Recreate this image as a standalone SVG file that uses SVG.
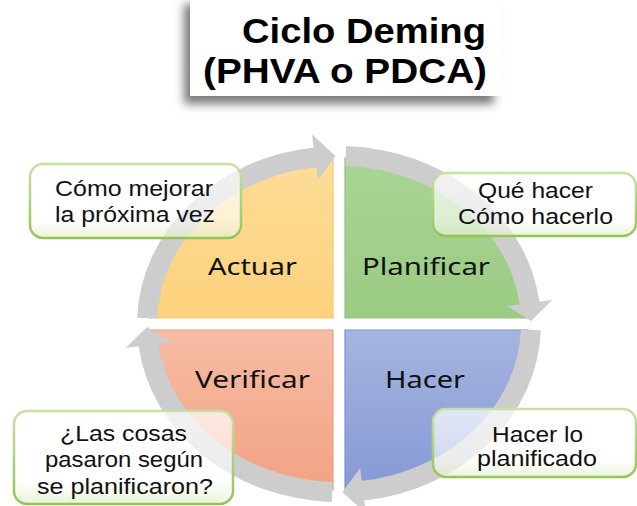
<svg xmlns="http://www.w3.org/2000/svg" width="637" height="506" viewBox="0 0 637 506">
<defs>
<filter id="shadow" x="-20%" y="-20%" width="140%" height="150%">
<feGaussianBlur stdDeviation="5"/>
</filter>
<linearGradient id="gA" x1="0" y1="0" x2="0" y2="1"><stop offset="0" stop-color="#FEDD98"/><stop offset="1" stop-color="#FCD17C"/></linearGradient>
<linearGradient id="gP" x1="0" y1="0" x2="0" y2="1"><stop offset="0" stop-color="#AAD495"/><stop offset="1" stop-color="#9BCB82"/></linearGradient>
<linearGradient id="gH" x1="0" y1="0" x2="0" y2="1"><stop offset="0" stop-color="#A5B5E0"/><stop offset="1" stop-color="#8599D5"/></linearGradient>
<linearGradient id="gV" x1="0" y1="0" x2="0" y2="1"><stop offset="0" stop-color="#F6BCA4"/><stop offset="1" stop-color="#F2A283"/></linearGradient>
<linearGradient id="boxStroke" x1="0" y1="0" x2="0" y2="1"><stop offset="0" stop-color="#C9E0A5"/><stop offset="1" stop-color="#94C455"/></linearGradient>
<linearGradient id="boxFill" x1="0" y1="0" x2="0" y2="1"><stop offset="0" stop-color="#FFFFFF" stop-opacity="0.72"/><stop offset="0.75" stop-color="#FFFFFF" stop-opacity="0.62"/><stop offset="1" stop-color="#E2F0CC" stop-opacity="0.75"/></linearGradient>
<style>
.title{font-family:"Liberation Sans",Arial,sans-serif;font-weight:bold;font-size:35px;fill:#000}
.q{font-family:"Noto Sans","DejaVu Sans",sans-serif;font-size:24px;fill:#111}
.c{font-family:"Liberation Sans",Arial,sans-serif;font-size:22px;fill:#111;text-anchor:middle}
.box{fill:url(#boxFill);stroke:url(#boxStroke);stroke-width:2.5}
.arrow{fill:#CDCDCD}
</style>
</defs>
<rect width="637" height="506" fill="#FFFFFF"/>

<g id="title">
<rect x="184" y="4" width="310" height="100" fill="#7A7A7A" filter="url(#shadow)"/>
<rect x="190" y="-4" width="312" height="100" fill="#FFFFFF"/>
<text class="title" x="242" y="43" textLength="244" lengthAdjust="spacingAndGlyphs">Ciclo Deming</text>
<text class="title" x="203" y="83" textLength="284" lengthAdjust="spacingAndGlyphs">(PHVA o PDCA)</text>
</g>

<g id="actuar">
<path d="M333,318 L150,318 A183 160 0 0 1 333,158 Z" fill="url(#gA)" stroke="#F5C870" stroke-width="1.2"/>
<text class="q" x="208" y="275" textLength="89" lengthAdjust="spacingAndGlyphs">Actuar</text>
</g>
<g id="planificar">
<path d="M345,318 L345,158 A183 160 0 0 1 528,318 Z" fill="url(#gP)" stroke="#93C47B" stroke-width="1.2"/>
<text class="q" x="362" y="275" textLength="128" lengthAdjust="spacingAndGlyphs">Planificar</text>
</g>
<g id="hacer">
<path d="M345,330 L528,330 A183 160 0 0 1 345,490 Z" fill="url(#gH)" stroke="#7D92D0" stroke-width="1.2"/>
<text class="q" x="385" y="388" textLength="80" lengthAdjust="spacingAndGlyphs">Hacer</text>
</g>
<g id="verificar">
<path d="M333,330 L333,490 A183 160 0 0 1 150,330 Z" fill="url(#gV)" stroke="#EE9E80" stroke-width="1.2"/>
<text class="q" x="195" y="388" textLength="115" lengthAdjust="spacingAndGlyphs">Verificar</text>
</g>

<g id="connectors">
<path class="arrow" d="M137.1,317.8 A202 178 0 0 1 313.7,147.4 L312.0,134.5 L335.6,156.0 L317.8,180.1 L316.2,167.2 A182 158 0 0 0 157.1,318.5 Z"/>
<path class="arrow" d="M346.1,146.1 A202 178 0 0 1 539.4,301.7 L552.3,300.0 L531.0,321.1 L506.7,305.8 L519.6,304.2 A182 158 0 0 0 345.4,166.1 Z"/>
<path class="arrow" d="M540.9,330.2 A202 178 0 0 1 364.3,500.6 L366.0,513.5 L342.4,492.0 L360.2,467.9 L361.8,480.8 A182 158 0 0 0 520.9,329.5 Z"/>
<path class="arrow" d="M332.0,501.9 A202 178 0 0 1 138.6,346.3 L125.7,348.0 L147.0,326.9 L171.3,342.2 L158.4,343.8 A182 158 0 0 0 332.6,481.9 Z"/>
</g>

<g id="callout-actuar">
<rect class="box" x="30" y="164" width="211" height="74" rx="13"/>
<text class="c" x="134" y="196" textLength="158" lengthAdjust="spacingAndGlyphs">Cómo mejorar</text>
<text class="c" x="135" y="222" textLength="160" lengthAdjust="spacingAndGlyphs">la próxima vez</text>
</g>
<g id="callout-planificar">
<rect class="box" x="433" y="173" width="203" height="63" rx="13"/>
<text class="c" x="535.5" y="198" textLength="115" lengthAdjust="spacingAndGlyphs">Qué hacer</text>
<text class="c" x="535.5" y="224" textLength="155" lengthAdjust="spacingAndGlyphs">Cómo hacerlo</text>
</g>
<g id="callout-verificar">
<rect class="box" x="14" y="411" width="219" height="93" rx="13"/>
<text class="c" x="123.5" y="441" textLength="127" lengthAdjust="spacingAndGlyphs">¿Las cosas</text>
<text class="c" x="124" y="467" textLength="158" lengthAdjust="spacingAndGlyphs">pasaron según</text>
<text class="c" x="125" y="494" textLength="176" lengthAdjust="spacingAndGlyphs">se planificaron?</text>
</g>
<g id="callout-hacer">
<rect class="box" x="433" y="409" width="203" height="68" rx="13"/>
<text class="c" x="537.5" y="442" textLength="91" lengthAdjust="spacingAndGlyphs">Hacer lo</text>
<text class="c" x="537" y="466" textLength="120" lengthAdjust="spacingAndGlyphs">planificado</text>
</g>
</svg>
